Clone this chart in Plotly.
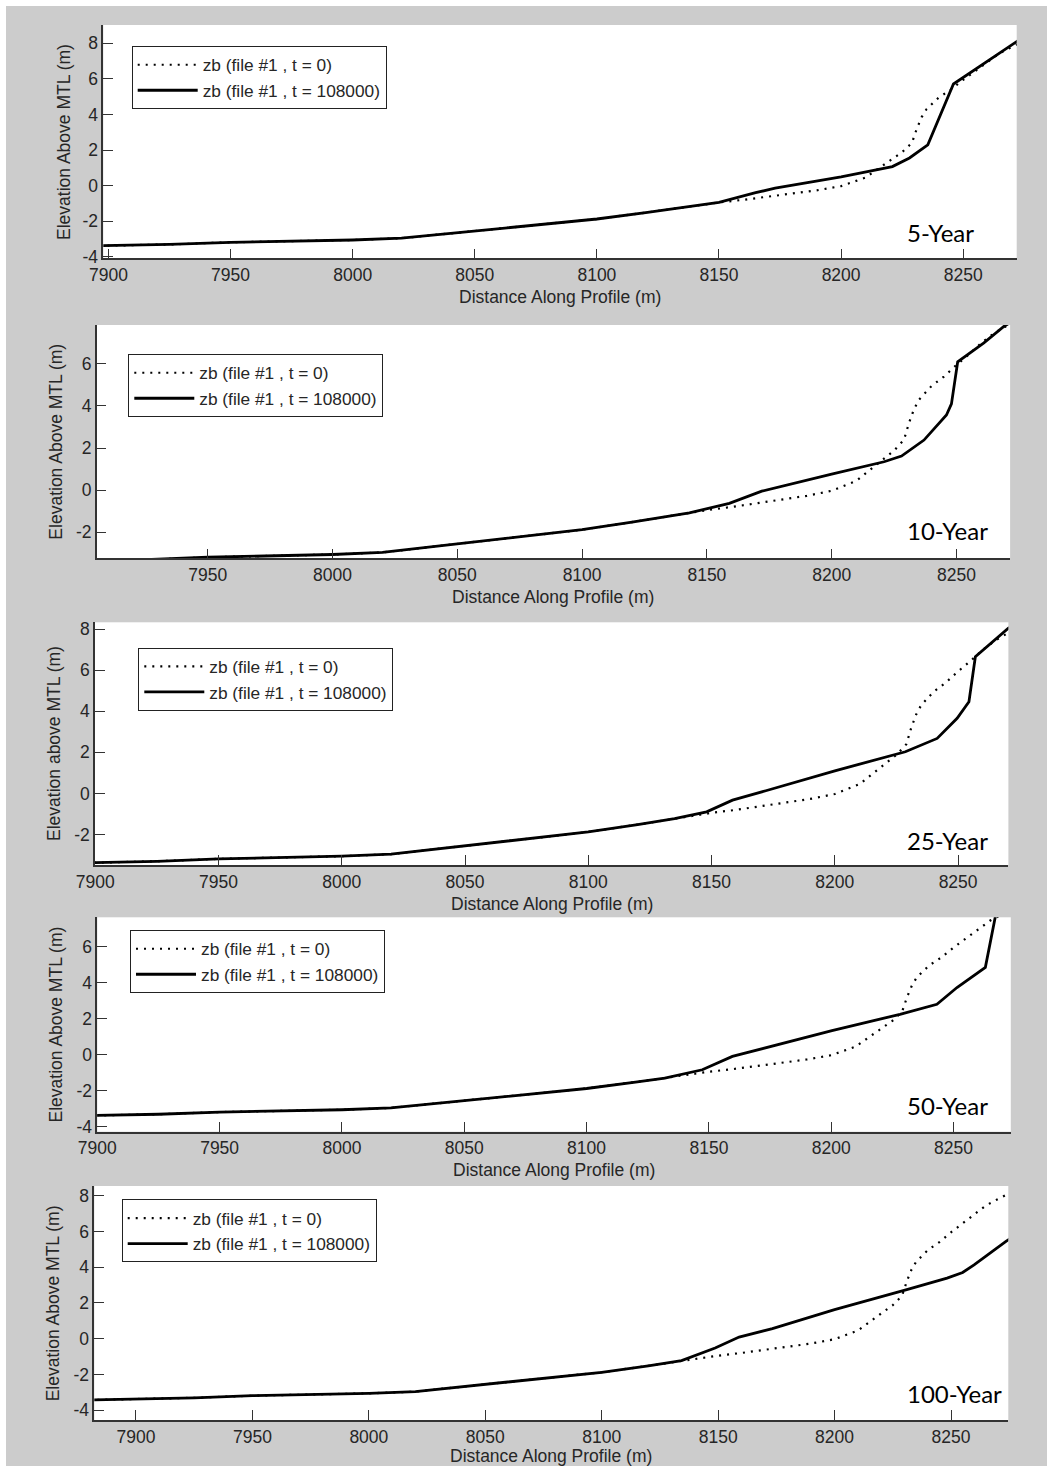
import plotly.graph_objects as go

# ---------------------------------------------------------------------------
# Beach profile data (distance along profile in m, elevation above MTL in m)
# ---------------------------------------------------------------------------

# Initial profile (t = 0), identical for every storm run
X_T0 = [7880, 7900, 7925, 7950, 7975, 8000, 8020, 8035, 8050, 8065, 8080, 8100,
        8120, 8135, 8150, 8160, 8170, 8180, 8190, 8200, 8205, 8210, 8215, 8220,
        8225, 8229, 8231, 8233, 8235, 8240, 8245, 8250, 8255, 8260, 8265, 8270, 8276]
Z_T0 = [-3.43, -3.38, -3.31, -3.19, -3.13, -3.06, -2.96, -2.76, -2.56, -2.38, -2.17, -1.88,
        -1.52, -1.23, -0.95, -0.80, -0.63, -0.45, -0.27, -0.03, 0.20, 0.45, 0.93, 1.40,
        1.88, 2.40, 3.20, 3.85, 4.30, 4.95, 5.40, 5.95, 6.45, 7.00, 7.45, 7.80, 8.20]

# Offshore part left untouched by every storm
X_OFFSHORE = [7880, 7900, 7925, 7950, 7975, 8000, 8020, 8035, 8050, 8065, 8080, 8100, 8120]
Z_OFFSHORE = [-3.43, -3.38, -3.31, -3.19, -3.13, -3.06, -2.96, -2.76, -2.56, -2.38, -2.17, -1.88, -1.52]

# Post-storm profiles (t = 108000 s), nearshore part
X_5YR = [8135, 8150, 8165, 8173, 8200, 8221, 8228, 8235.5, 8246, 8272, 8276]
Z_5YR = [-1.23, -0.95, -0.40, -0.15, 0.49, 1.07, 1.55, 2.29, 5.71, 8.11, 8.35]

X_10YR = [8135, 8143, 8159, 8172, 8200, 8221, 8228, 8237, 8246, 8248, 8250.5, 8261, 8269, 8276]
Z_10YR = [-1.23, -1.08, -0.63, -0.05, 0.76, 1.35, 1.62, 2.38, 3.57, 4.10, 6.10, 7.00, 7.78, 8.30]

X_25YR = [8135, 8148, 8158.5, 8172, 8200, 8228.6, 8241.5, 8249.6, 8254.4, 8257, 8270.4, 8276]
Z_25YR = [-1.23, -0.90, -0.33, 0.13, 1.10, 2.03, 2.68, 3.66, 4.47, 6.66, 8.05, 8.45]

X_50YR = [8132, 8147.3, 8159.6, 8200.3, 8228.1, 8243.2, 8251.4, 8263, 8268]
Z_50YR = [-1.31, -0.84, -0.10, 1.34, 2.24, 2.80, 3.73, 4.85, 8.30]

X_100YR = [8134.3, 8148.7, 8159, 8173.3, 8200, 8231, 8248.3, 8255, 8259.9, 8273.6, 8276]
Z_100YR = [-1.23, -0.52, 0.09, 0.56, 1.62, 2.74, 3.39, 3.70, 4.13, 5.44, 5.65]

STORM_LABELS = ["5-Year", "10-Year", "25-Year", "50-Year", "100-Year"]
Y_TITLES = ["Elevation Above MTL (m)", "Elevation Above MTL (m)", "Elevation above MTL (m)",
            "Elevation Above MTL (m)", "Elevation Above MTL (m)"]
X_TITLE = "Distance Along Profile (m)"
LEGEND_NAMES = ["zb (file #1 , t = 0)", "zb (file #1 , t = 108000)"]

X_TICK_VALS = [7900, 7950, 8000, 8050, 8100, 8150, 8200, 8250]
X_TICK_TEXT = ["7900", "7950", "8000", "8050", "8100", "8150", "8200", "8250"]
Y_TICK_VALS = [-4, -2, 0, 2, 4, 6, 8]
Y_TICK_TEXT = ["-4", "-2", "0", "2", "4", "6", "8"]

FINAL_X = [X_5YR, X_10YR, X_25YR, X_50YR, X_100YR]
FINAL_Z = [Z_5YR, Z_10YR, Z_25YR, Z_50YR, Z_100YR]

# ---------------------------------------------------------------------------
# Page layout (pixel geometry of each panel)
# ---------------------------------------------------------------------------
W, H = 1047, 1466

# plot-area boxes: left, top, right, bottom (px)
BOXES = [
    (103.3, 25.0, 1016.7, 258.3),
    (96.7, 325.0, 1010.1, 558.3),
    (95.0, 622.3, 1008.4, 865.0),
    (97.3, 917.3, 1010.8, 1131.7),
    (94.3, 1186.0, 1008.3, 1420.0),
]
X_RANGES = [(7897.9, 8271.9), (7905.5, 8271.5), (7899.9, 8270.4), (7900.0, 8273.4), (7882.1, 8274.6)]
Y_RANGES = [(-4.09, 9.03), (-3.24, 7.85), (-3.49, 8.34), (-4.28, 7.63), (-4.55, 8.54)]
LEGEND_POS = [(131.7, 46.0), (128.3, 354.0), (138.3, 647.7), (130.0, 930.0), (121.7, 1199.3)]
YTITLE_X = [63.3, 56.0, 53.3, 55.0, 53.3]
XTITLE_Y = [297.0, 596.7, 904.3, 1170.0, 1455.5]
LABEL_Y = [232.0, 530.2, 840.9, 1105.0, 1393.5]

GRAY = "#cccccc"
INK = "#262626"
FONT = "Liberation Sans, Arial, sans-serif"


def px_x(x):
    return x / W


def px_y(y):
    return 1 - y / H


fig = go.Figure()
annotations = []
layout_axes = {}
legends = {}

for i in range(5):
    n = "" if i == 0 else str(i + 1)
    xa, ya = "x" + n, "y" + n
    leg = "legend" + n
    left, top, right, bottom = BOXES[i]

    fig.add_trace(go.Scatter(
        x=X_T0, y=Z_T0, mode="lines", name=LEGEND_NAMES[0],
        line=dict(color="black", width=2.2, dash="2px,6px"),
        xaxis=xa, yaxis=ya, legend=leg, hoverinfo="skip",
    ))
    fig.add_trace(go.Scatter(
        x=X_OFFSHORE + FINAL_X[i], y=Z_OFFSHORE + FINAL_Z[i], mode="lines", name=LEGEND_NAMES[1],
        line=dict(color="black", width=2.8),
        xaxis=xa, yaxis=ya, legend=leg, hoverinfo="skip",
    ))

    axis_common = dict(
        showline=True, linecolor="#333333", linewidth=1.5, mirror=False,
        ticks="inside", ticklen=10, tickwidth=1, tickcolor="#333333",
        showgrid=False, zeroline=False, automargin=False,
        tickfont=dict(family=FONT, size=17.5, color=INK),
    )
    layout_axes["xaxis" + n] = dict(
        axis_common, domain=[px_x(left), px_x(right)], anchor=ya,
        range=list(X_RANGES[i]), tickmode="array",
        tickvals=X_TICK_VALS, ticktext=X_TICK_TEXT,
    )
    layout_axes["yaxis" + n] = dict(
        axis_common, domain=[px_y(bottom), px_y(top)], anchor=xa,
        range=list(Y_RANGES[i]), tickmode="array",
        tickvals=Y_TICK_VALS, ticktext=Y_TICK_TEXT,
    )

    lx, ly = LEGEND_POS[i]
    legends[leg] = dict(
        x=px_x(lx), y=px_y(ly), xanchor="left", yanchor="top",
        xref="paper", yref="paper",
        bgcolor="white", bordercolor="#222222", borderwidth=1,
        font=dict(family=FONT, size=17.3, color=INK),
        itemwidth=60, tracegroupgap=0,
    )

    # axis titles
    annotations.append(dict(
        text=Y_TITLES[i], x=px_x(YTITLE_X[i]), y=px_y((top + bottom) / 2),
        xref="paper", yref="paper", showarrow=False, textangle=-90,
        xanchor="center", yanchor="middle",
        font=dict(family=FONT, size=17.5, color=INK),
    ))
    annotations.append(dict(
        text=X_TITLE, x=px_x((left + right) / 2), y=px_y(XTITLE_Y[i]),
        xref="paper", yref="paper", showarrow=False,
        xanchor="center", yanchor="middle",
        font=dict(family=FONT, size=17.5, color=INK),
    ))
    # storm return-period label
    annotations.append(dict(
        text=STORM_LABELS[i], x=px_x(905), y=px_y(LABEL_Y[i]),
        xref="paper", yref="paper", showarrow=False,
        xanchor="left", yanchor="middle",
        font=dict(family="Lato, Open Sans, sans-serif", size=24, color="black"),
    ))

fig.update_layout(
    width=W, height=H,
    margin=dict(l=0, r=0, t=0, b=0, autoexpand=False),
    paper_bgcolor=GRAY, plot_bgcolor="white",
    showlegend=True,
    annotations=annotations,
    shapes=[
        dict(type="rect", xref="paper", yref="paper", x0=0, x1=1, y0=px_y(6), y1=1,
             fillcolor="white", line=dict(width=0), layer="above"),
        dict(type="rect", xref="paper", yref="paper", x0=0, x1=px_x(6), y0=0, y1=1,
             fillcolor="white", line=dict(width=0), layer="above"),
    ],
    **layout_axes,
    **legends,
)

fig.write_html("out.html")
